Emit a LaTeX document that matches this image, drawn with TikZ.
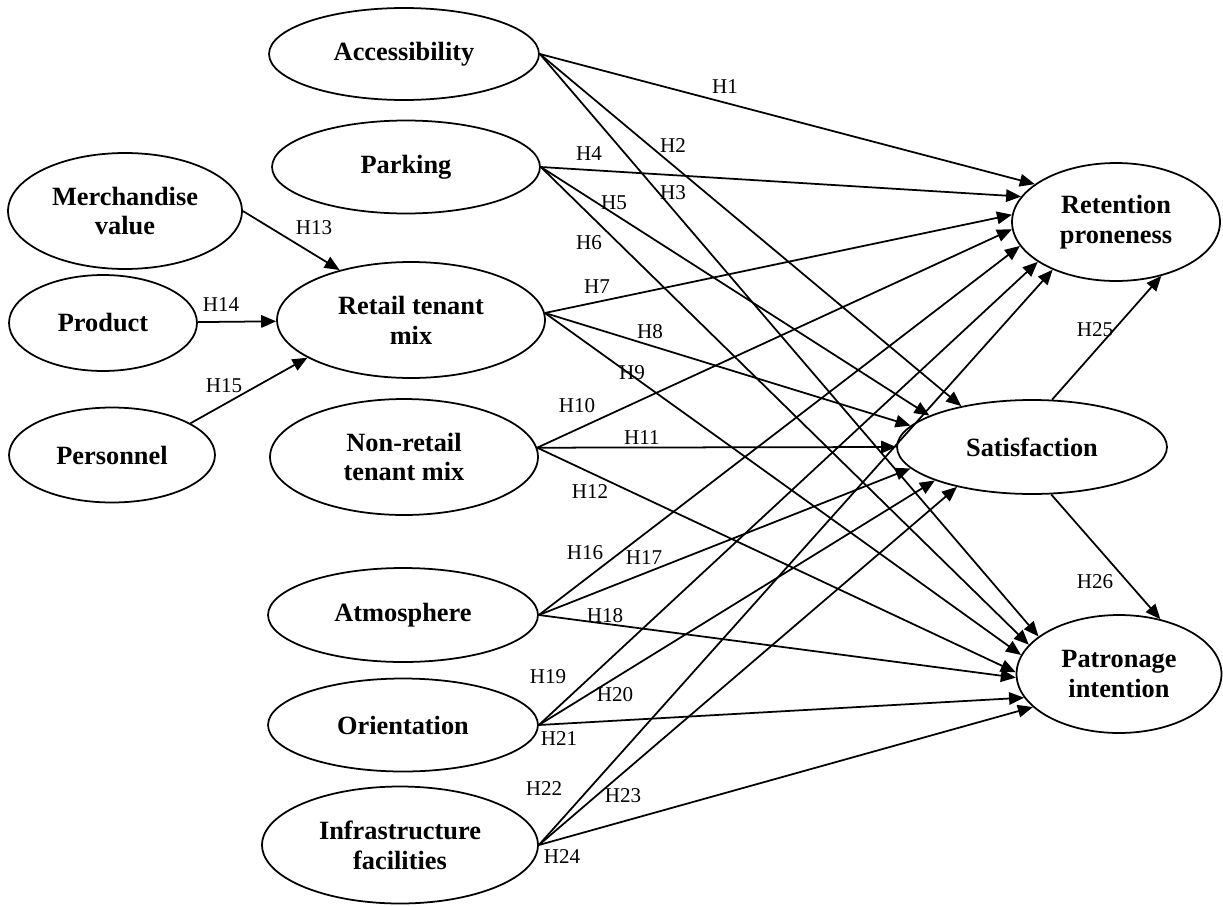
\documentclass[tikz,border=0pt]{standalone}
\usepackage{fontspec}
\setmainfont{Liberation Serif}
\usetikzlibrary{arrows.meta,shapes.geometric}
\begin{document}
\begin{tikzpicture}[x=0.02cm,y=-0.02cm,
  cons/.style={ellipse,draw,line width=1pt,inner sep=0pt,align=center,font=\fontsize{15}{17}\selectfont\bfseries},
  arr/.style={line width=1pt,-{Triangle[length=0.3cm,width=0.25cm]}},
  lab/.style={font=\fontsize{12}{14}\selectfont,inner sep=0pt}]
\useasboundingbox (0,0) rectangle (1223,906);
% constructs
\node[cons,minimum width=5.4cm,minimum height=1.84cm] (acc) at (404,54) {Accessibility};
\node[cons,minimum width=5.36cm,minimum height=1.86cm] (park) at (406,167) {Parking};
\node[cons,minimum width=4.68cm,minimum height=2.32cm] (merch) at (125,211) {Merchandise\\value};
\node[cons,minimum width=3.76cm,minimum height=1.92cm] (prod) at (103,323) {Product};
\node[cons,minimum width=4.12cm,minimum height=1.9cm] (pers) at (112,455) {Personnel};
\node[cons,minimum width=5.36cm,minimum height=2.32cm] (retail) at (411,320) {Retail tenant\\mix};
\node[cons,minimum width=5.36cm,minimum height=2.32cm] (nonret) at (404,457) {Non-retail\\tenant mix};
\node[cons,minimum width=5.4cm,minimum height=1.88cm] (atmo) at (403,615) {Atmosphere};
\node[cons,minimum width=5.4cm,minimum height=1.86cm] (orient) at (403,725) {Orientation};
\node[cons,minimum width=5.52cm,minimum height=2.34cm] (infra) at (400,845) {Infrastructure\\facilities};
\node[cons,minimum width=4.16cm,minimum height=2.36cm] (ret) at (1116,222) {Retention\\proneness};
\node[cons,minimum width=5.4cm,minimum height=1.88cm] (sat) at (1032,447) {Satisfaction};
\node[cons,minimum width=4.1cm,minimum height=2.36cm] (pat) at (1119,674) {Patronage\\intention};
% antecedents of retail tenant mix
\draw[arr] (merch.east) -- (retail.145);
\draw[arr] (prod) -- (retail);
\draw[arr] (pers.22) -- (retail.200);
% to retention proneness
\draw[arr] (acc.east) -- (ret.155);
\draw[arr] (park.east) -- (ret.165);
\draw[arr] (retail.3) -- (ret.176);
\draw[arr] (nonret.4) -- (ret.184);
\draw[arr] (atmo.east) -- (ret.194);
\draw[arr] (orient.east) -- (ret.207);
\draw[arr] (infra.east) -- (ret.217);
% to satisfaction
\draw[arr] (acc.east) -- (sat.150);
\draw[arr] (park.east) -- (sat.163);
\draw[arr] (retail.3) -- (sat.170);
\draw[arr] (nonret.4) -- (sat.180);
\draw[arr] (atmo.east) -- (sat.190.5);
\draw[arr] (orient.east) -- (sat.199);
\draw[arr] (infra.east) -- (sat.208);
% to patronage intention
\draw[arr] (acc.east) -- (pat.155);
\draw[arr] (park.east) -- (pat.162);
\draw[arr] (retail.3) -- (pat.169);
\draw[arr] (nonret.4) -- (pat.179.5);
\draw[arr] (atmo.east) -- (pat.182);
\draw[arr] (orient.east) -- (pat.194);
\draw[arr] (infra.east) -- (pat.201);
% satisfaction outcomes
\draw[arr] (sat.67) -- (ret.310);
\draw[arr] (sat.292) -- (pat.53);
% labels
\node[lab] (h1) at (725,87) {H1};
\node[lab] (h2) at (673,146) {H2};
\node[lab] (h3) at (673,193) {H3};
\node[lab] (h4) at (589,154) {H4};
\node[lab] (h5) at (614,203) {H5};
\node[lab] (h6) at (589,243) {H6};
\node[lab] (h7) at (597,287) {H7};
\node[lab] (h8) at (650,332) {H8};
\node[lab] (h9) at (632,373) {H9};
\node[lab] (h10) at (577,406) {H10};
\node[lab] (h11) at (642,438) {H11};
\node[lab] (h12) at (590,492) {H12};
\node[lab] (h13) at (314,228) {H13};
\node[lab] (h14) at (221,305) {H14};
\node[lab] (h15) at (224,386) {H15};
\node[lab] (h16) at (585,553) {H16};
\node[lab] (h17) at (644,558) {H17};
\node[lab] (h18) at (605,616) {H18};
\node[lab] (h19) at (548,677) {H19};
\node[lab] (h20) at (615,695) {H20};
\node[lab] (h21) at (559,739) {H21};
\node[lab] (h22) at (544,789) {H22};
\node[lab] (h23) at (623,796) {H23};
\node[lab] (h24) at (562,857) {H24};
\node[lab] (h25) at (1095,330) {H25};
\node[lab] (h26) at (1095,582) {H26};
\end{tikzpicture}
\end{document}
